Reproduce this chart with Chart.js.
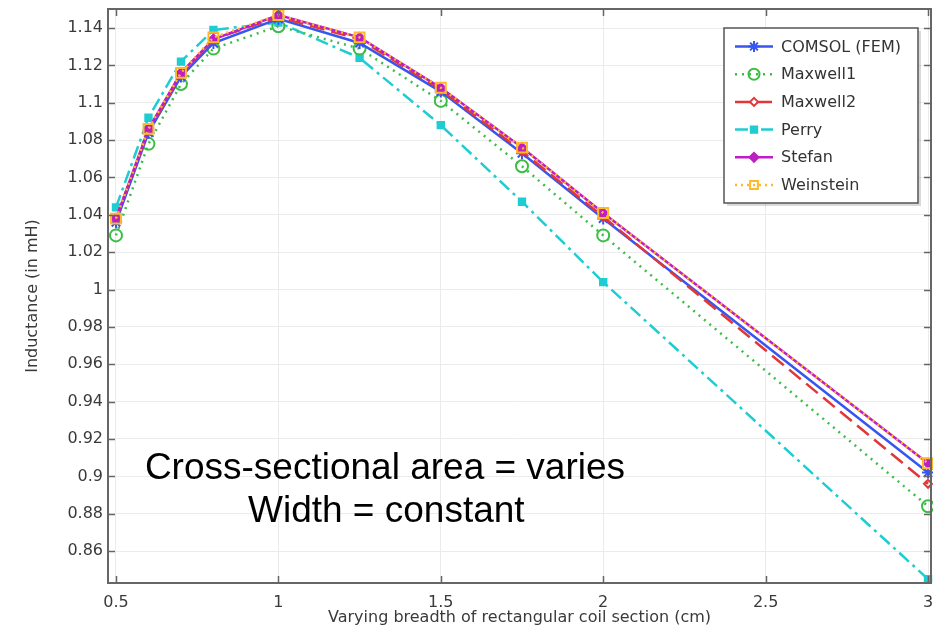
<!DOCTYPE html>
<html>
<head>
<meta charset="utf-8">
<script src="https://cdn.jsdelivr.net/npm/chart.js@4.4.1/dist/chart.umd.min.js"></script>
<style>
  html, body { margin: 0; padding: 0; background: #fff; }
</style>
</head>
<body>
<canvas id="inductChart" width="933" height="627"></canvas>
<script>
// coil breadth (cm) and inductance (mH) from each method
var breadth = [0.5, 0.6, 0.7, 0.8, 1, 1.25, 1.5, 1.75, 2, 3]

var comsol    = [1.036, 1.084, 1.114, 1.132, 1.145, 1.132, 1.106, 1.073, 1.038, 0.902]
var maxwell1  = [1.029, 1.078, 1.110, 1.129, 1.141, 1.129, 1.101, 1.066, 1.029, 0.884]
var maxwell2  = [1.038, 1.085, 1.115, 1.134, 1.146, 1.134, 1.107, 1.074, 1.039, 0.896]
var perry     = [1.044, 1.092, 1.122, 1.139, 1.143, 1.124, 1.088, 1.047, 1.004, 0.845]
var stefan    = [1.038, 1.086, 1.116, 1.134, 1.147, 1.135, 1.108, 1.076, 1.041, 0.907]
var weinstein = [1.038, 1.086, 1.116, 1.135, 1.147, 1.135, 1.108, 1.076, 1.041, 0.907]

var xTickValues = [0.5, 1, 1.5, 2, 2.5, 3]
var yTickValues = [0.86, 0.88, 0.9, 0.92, 0.94, 0.96, 0.98, 1, 1.02, 1.04, 1.06, 1.08, 1.1, 1.12, 1.14]

var noteLines = ['Cross-sectional area = varies', 'Width = constant']

function points (values) {
  return breadth.map((x, i) => ({ x: x, y: values[i] }))
}

function series (label, values, color, dash, style, radius, fill, order) {
  return {
    label: label,
    data: points(values),
    borderColor: color,
    backgroundColor: fill ? color : 'rgba(255,255,255,0)',
    borderWidth: 2.5,
    borderDash: dash,
    pointStyle: style,
    pointRadius: radius,
    pointBorderWidth: 2,
    pointBorderColor: color,
    pointBackgroundColor: fill ? color : 'rgba(255,255,255,0)',
    tension: 0,
    clip: false,
    order: order
  }
}

const tickFont = { family: '"DejaVu Sans", sans-serif', size: 16 }
const trimNum = (v) => String(+Number(v).toFixed(2))

// frame, inward ticks, legend box and note text
const decorations = {
  id: 'decorations',
  afterDatasetsDraw (chart) {
    const ctx = chart.ctx
    const a = chart.chartArea
    const xs = chart.scales.x
    const ys = chart.scales.y

    ctx.save()
    ctx.strokeStyle = '#666'
    ctx.lineWidth = 1.5
    ctx.beginPath()
    xTickValues.forEach(v => {
      const px = Math.round(xs.getPixelForValue(v)) + 0.5
      ctx.moveTo(px, a.bottom); ctx.lineTo(px, a.bottom - 7)
      ctx.moveTo(px, a.top); ctx.lineTo(px, a.top + 7)
    })
    yTickValues.forEach(v => {
      const py = Math.round(ys.getPixelForValue(v)) + 0.5
      ctx.moveTo(a.left, py); ctx.lineTo(a.left + 7, py)
      ctx.moveTo(a.right, py); ctx.lineTo(a.right - 7, py)
    })
    ctx.stroke()
    ctx.lineWidth = 2
    ctx.strokeRect(a.left, a.top, a.right - a.left, a.bottom - a.top)
    ctx.restore()

    // note
    ctx.save()
    ctx.fillStyle = '#000'
    ctx.font = '37px "Liberation Sans", Arial, sans-serif'
    ctx.textBaseline = 'alphabetic'
    ctx.fillText(noteLines[0], xs.getPixelForValue(0.589), ys.getPixelForValue(0.8986))
    ctx.fillText(noteLines[1], xs.getPixelForValue(0.9064), ys.getPixelForValue(0.8755))
    ctx.restore()

    // legend
    const box = { x: a.right - 207, y: a.top + 19, w: 194, h: 175 }
    ctx.save()
    ctx.fillStyle = 'rgba(0,0,0,0.15)'
    ctx.fillRect(box.x + 3, box.y + 3, box.w, box.h)
    ctx.fillStyle = '#fff'
    ctx.fillRect(box.x, box.y, box.w, box.h)
    ctx.strokeStyle = '#555'
    ctx.lineWidth = 1.5
    ctx.strokeRect(box.x, box.y, box.w, box.h)
    chart.data.datasets.forEach((ds, i) => {
      const ry = box.y + 18.5 + i * 27.7
      ctx.strokeStyle = ds.borderColor
      ctx.lineWidth = ds.borderWidth
      ctx.setLineDash(ds.borderDash || [])
      ctx.beginPath()
      ctx.moveTo(box.x + 11, ry)
      ctx.lineTo(box.x + 49, ry)
      ctx.stroke()
      ctx.setLineDash([])
      ctx.fillStyle = ds.pointBackgroundColor
      ctx.lineWidth = ds.pointBorderWidth
      Chart.helpers.drawPoint(ctx, {
        pointStyle: ds.pointStyle,
        radius: Math.min(ds.pointRadius, 5.5),
        rotation: 0,
        borderWidth: ds.pointBorderWidth
      }, box.x + 30, ry)
      ctx.fillStyle = '#333'
      ctx.font = '16px "DejaVu Sans", sans-serif'
      ctx.textBaseline = 'middle'
      ctx.fillText(ds.label, box.x + 57, ry + 1)
    })
    ctx.restore()
  }
}

new Chart(document.getElementById('inductChart'), {
  type: 'line',
  data: {
    datasets: [
      series('COMSOL (FEM)', comsol, 'rgb(55,85,240)', [], 'star', 6, false, 3),
      series('Maxwell1', maxwell1, 'rgb(60,190,70)', [2, 5], 'circle', 6, false, 4),
      series('Maxwell2', maxwell2, 'rgb(225,55,55)', [15, 7], 'rectRot', 4, false, 2),
      series('Perry', perry, 'rgb(30,205,210)', [13, 5, 3, 5], 'rect', 4.5, true, 5),
      series('Stefan', stefan, 'rgb(190,30,195)', [], 'rectRot', 4.5, true, 1),
      series('Weinstein', weinstein, 'rgb(255,185,40)', [2, 4], 'rect', 7, false, 0)
    ]
  },
  options: {
    responsive: false,
    animation: false,
    devicePixelRatio: 1,
    layout: { autoPadding: false, padding: { top: 9, right: 2, left: 0, bottom: 0 } },
    plugins: {
      legend: { display: false },
      tooltip: { enabled: false }
    },
    scales: {
      x: {
        type: 'linear',
        min: 0.4754,
        max: 3.0092,
        afterBuildTicks: (scale) => { scale.ticks = xTickValues.map(v => ({ value: v })) },
        afterFit: (scale) => {
          scale.height = 44
          scale.paddingLeft = 0
          scale.paddingRight = 0
        },
        grid: { color: '#ebebeb', drawTicks: false },
        border: { display: false },
        ticks: {
          font: tickFont,
          color: '#3a3a3a',
          padding: 10,
          maxRotation: 0,
          autoSkip: false,
          callback: trimNum
        },
        title: {
          display: true,
          text: 'Varying breadth of rectangular coil section (cm)',
          font: tickFont,
          color: '#3a3a3a',
          padding: 0
        }
      },
      y: {
        min: 0.8429,
        max: 1.1502,
        afterBuildTicks: (scale) => { scale.ticks = yTickValues.map(v => ({ value: v })) },
        afterFit: (scale) => {
          scale.width = 108
          scale.paddingTop = 0
          scale.paddingBottom = 0
        },
        grid: { color: '#ebebeb', drawTicks: false },
        border: { display: false },
        ticks: {
          font: tickFont,
          color: '#3a3a3a',
          padding: 5,
          autoSkip: false,
          callback: trimNum
        },
        title: {
          display: true,
          text: 'Inductance (in mH)',
          font: tickFont,
          color: '#3a3a3a',
          padding: { top: 23, bottom: 0 }
        }
      }
    }
  },
  plugins: [decorations]
})
</script>
</body>
</html>
